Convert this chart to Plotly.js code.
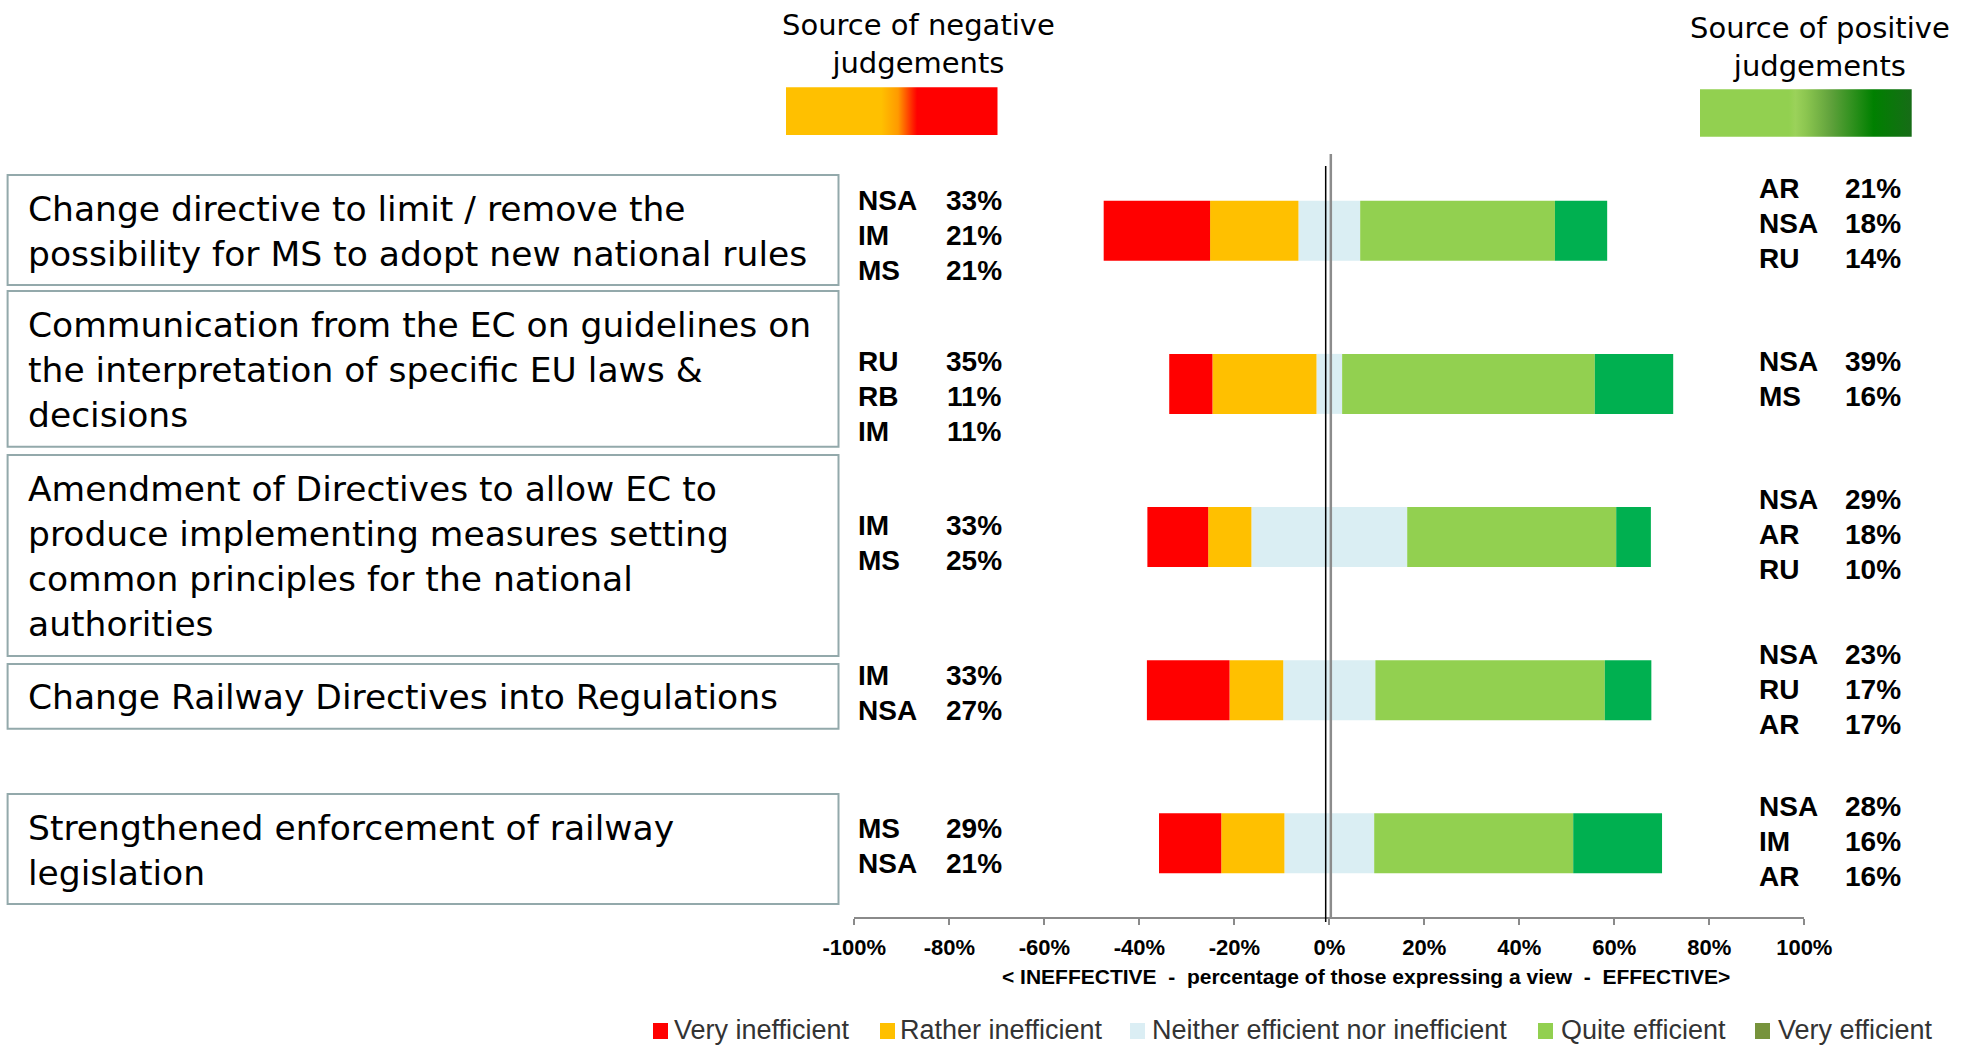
<!DOCTYPE html>
<html><head><meta charset="utf-8">
<script src="https://cdn.plot.ly/plotly-3.0.1.min.js"></script>
<style>html,body{margin:0;padding:0;background:#fff;overflow:hidden}</style>
</head><body><div id="chart" style="width:1975px;height:1048px"></div>
<script>
// ---------------- DATA ----------------
const categories = [
  "Change directive to limit / remove the<br>possibility for MS to adopt new national rules",
  "Communication from the EC on guidelines on<br>the interpretation of specific EU laws &amp;<br>decisions",
  "Amendment of Directives to allow EC to<br>produce implementing measures setting<br>common principles for the national<br>authorities",
  "Change Railway Directives into Regulations",
  "Strengthened enforcement of railway<br>legislation"
];
const veryInefficient   = [22.4,  9.1, 12.8, 17.4, 13.1];
const ratherInefficient = [18.6, 21.9,  9.1, 11.3, 13.3];
const neitherNor        = [13.0,  5.4, 32.8, 19.4, 18.9];
const quiteEfficient    = [41.0, 53.2, 44.0, 48.3, 41.9];
const veryEfficient     = [11.0, 16.5,  7.3,  9.8, 18.7];

const negSourceCodes  = [["NSA","IM","MS"],["RU","RB","IM"],["IM","MS"],["IM","NSA"],["MS","NSA"]];
const negSourceShares = [[33,21,21],[35,11,11],[33,25],[33,27],[29,21]];
const posSourceCodes  = [["AR","NSA","RU"],["NSA","MS"],["NSA","AR","RU"],["NSA","RU","AR"],["NSA","IM","AR"]];
const posSourceShares = [[21,18,14],[39,16],[29,18,10],[23,17,17],[28,16,16]];

const tickVals   = [-100,-80,-60,-40,-20,0,20,40,60,80,100];
const tickLabels = ["-100%","-80%","-60%","-40%","-20%","0%","20%","40%","60%","80%","100%"];
const axisTitle  = "&lt; INEFFECTIVE \u00a0-\u00a0 percentage of those expressing a view \u00a0-\u00a0 EFFECTIVE&gt;";

const legendLabels = ["Very inefficient","Rather inefficient","Neither efficient nor inefficient","Quite efficient","Very efficient"];
const negHeader = "Source of negative<br>judgements";
const posHeader = "Source of positive<br>judgements";

// ---------------- STYLE / LAYOUT ----------------
const W = 1975, H = 1048;
const C_VI = "#FF0000", C_RI = "#FFC000", C_N = "#DAEEF3", C_QE = "#92D050", C_VE = "#00B050";
const legendColors = ["#FF0000","#FFC000","#DBEEF4","#92D050","#77933C"];
const BOX_FONT = '"DejaVu Sans", sans-serif';
const ARIAL = '"Liberation Sans", Arial, sans-serif';

const X_L = 854.3, X_R = 1804.3;
const Y_TOP = 154, Y_BOT = 916.7;
const yRange = [4.479, -0.501];
const unitPx = (Y_BOT - Y_TOP) / (yRange[0] - yRange[1]);
const px = v => v / W;
const py = v => 1 - v / H;
const barCenterPx = i => Y_TOP + (i - yRange[1]) * unitPx;

const barW = 60 / unitPx;
function barTrace(vals, color, name) {
  return {type: "bar", orientation: "h", y: categories, x: vals, name: name,
    width: barW, marker: {color: color, line: {width: 0}},
    xaxis: "x", yaxis: "y", showlegend: false, hoverinfo: "skip"};
}
const traces = [
  barTrace(neitherNor.map(v => -v / 2), C_N, legendLabels[2]),
  barTrace(ratherInefficient.map(v => -v), C_RI, legendLabels[1]),
  barTrace(veryInefficient.map(v => -v), C_VI, legendLabels[0]),
  barTrace(neitherNor.map(v => v / 2), C_N, legendLabels[2]),
  barTrace(quiteEfficient, C_QE, legendLabels[3]),
  barTrace(veryEfficient, C_VE, legendLabels[4])
];

// gradient boxes (decoration, pixel-space overlay axes)
function gradBox(x0, x1, y0, y1, scale) {
  return {type: "scatter", mode: "lines", x: [x0, x1, x1, x0, x0], y: [y0, y0, y1, y1, y0],
    fill: "toself", line: {width: 0, color: "rgba(0,0,0,0)"},
    fillgradient: {type: "horizontal", colorscale: scale, start: x0, stop: x1},
    xaxis: "x2", yaxis: "y2", showlegend: false, hoverinfo: "skip"};
}
traces.push(gradBox(786, 997.5, 87.3, 135,
  [[0, "#FFC000"], [0.45, "#FFC000"], [0.53, "#FF9A00"], [0.6, "#FF2000"], [0.62, "#FF0000"], [1, "#FF0000"]]));
traces.push(gradBox(1700, 1911.7, 89.3, 136.7,
  [[0, "#92D050"], [0.42, "#92D050"], [0.45, "#9BD25A"], [0.5, "#8CC650"], [0.62, "#5FA13B"], [0.82, "#008000"], [1, "#176C17"]]));

const shapes = [];
const annotations = [];

// left text boxes
const boxTop = [175, 291, 455, 664, 794];
const boxBot = [285, 446.7, 656, 728.7, 904];
categories.forEach((c, i) => {
  shapes.push({type: "rect", xref: "paper", yref: "paper",
    x0: px(7.6), x1: px(838.5), y0: py(boxTop[i]), y1: py(boxBot[i]),
    line: {color: "#93A9AB", width: 2}, fillcolor: "rgba(0,0,0,0)"});
  annotations.push({xref: "paper", yref: "paper", x: px(26), y: py((boxTop[i] + boxBot[i]) / 2 + 1),
    xanchor: "left", yanchor: "middle", align: "left", showarrow: false, text: c,
    font: {family: BOX_FONT, size: 34.5, color: "#000"}});
});

// source labels
const SPACING = 35;
const negOffset = [4.3, 12.4, 6.2, 2.8, 2.8];
const posOffset = [-7.4, -4.6, -2.7, -1, -1.6];
function sourceLabels(codes, shares, offs, codeX, pctX) {
  codes.forEach((grp, i) => {
    const n = grp.length;
    grp.forEach((code, k) => {
      const yc = barCenterPx(i) + offs[i] + (k - (n - 1) / 2) * SPACING;
      annotations.push({xref: "paper", yref: "paper", x: px(codeX), y: py(yc), xanchor: "left", yanchor: "middle",
        showarrow: false, text: code, font: {family: ARIAL, size: 28, color: "#000", weight: "bold"}});
      annotations.push({xref: "paper", yref: "paper", x: px(pctX), y: py(yc), xanchor: "right", yanchor: "middle",
        showarrow: false, text: shares[i][k] + "%", font: {family: ARIAL, size: 28, color: "#000", weight: "bold"}});
    });
  });
}
sourceLabels(negSourceCodes, negSourceShares, negOffset, 856, 1004);
sourceLabels(posSourceCodes, posSourceShares, posOffset, 1757, 1903);

// zero divider lines
shapes.push({type: "line", xref: "x", yref: "paper", x0: 0.32, x1: 0.32, y0: py(154), y1: py(917),
  line: {color: "#8C8C8C", width: 2.5}});
shapes.push({type: "line", xref: "x", yref: "paper", x0: -0.76, x1: -0.76, y0: py(166), y1: py(922),
  line: {color: "#000", width: 1.5}});

// axis title
annotations.push({xref: "paper", yref: "paper", x: px(1366), y: py(976), xanchor: "center", yanchor: "middle",
  showarrow: false, text: axisTitle, font: {family: ARIAL, size: 21, color: "#000", weight: "bold"}});

// headers
annotations.push({xref: "paper", yref: "paper", x: px(918), y: py(44), xanchor: "center", yanchor: "middle",
  showarrow: false, text: negHeader, align: "center", font: {family: BOX_FONT, size: 29, color: "#000"}});
annotations.push({xref: "paper", yref: "paper", x: px(1820), y: py(47), xanchor: "center", yanchor: "middle",
  showarrow: false, text: posHeader, align: "center", font: {family: BOX_FONT, size: 29, color: "#000"}});

// manual legend
const legSqX = [653, 880, 1130, 1538, 1755];
const legTxtX = [672, 898, 1150, 1559, 1776];
legendLabels.forEach((l, i) => {
  shapes.push({type: "rect", xref: "paper", yref: "paper", x0: px(legSqX[i]), x1: px(legSqX[i] + 15),
    y0: py(1023), y1: py(1039), line: {width: 0}, fillcolor: legendColors[i]});
  annotations.push({xref: "paper", yref: "paper", x: px(legTxtX[i]), y: py(1030), xanchor: "left", yanchor: "middle",
    showarrow: false, text: l, font: {family: ARIAL, size: 27, color: "#333"}});
});

const layout = {
  width: W, height: H, margin: {l: 0, r: 0, t: 0, b: 0, pad: 0},
  paper_bgcolor: "#fff", plot_bgcolor: "rgba(0,0,0,0)",
  barmode: "relative", showlegend: false,
  xaxis: {domain: [px(X_L), px(X_R)], range: [-100, 100], tickvals: tickVals, ticktext: tickLabels,
    showgrid: false, zeroline: false, showline: true, linecolor: "#8A8A8A", linewidth: 2.5,
    ticks: "outside", ticklen: 6, tickwidth: 2, tickcolor: "#8A8A8A", ticklabelstandoff: 3,
    tickfont: {family: ARIAL, size: 22, color: "#000", weight: "bold"}, anchor: "y", fixedrange: true},
  yaxis: {domain: [py(Y_BOT), py(Y_TOP)], type: "category", range: yRange, showticklabels: false,
    showgrid: false, zeroline: false, showline: false, ticks: "", anchor: "x", fixedrange: true},
  xaxis2: {domain: [0, 1], range: [0, W], visible: false, anchor: "y2", fixedrange: true},
  yaxis2: {domain: [0, 1], range: [H, 0], visible: false, anchor: "x2", fixedrange: true},
  shapes: shapes, annotations: annotations
};
Plotly.newPlot("chart", traces, layout, {displayModeBar: false, staticPlot: true});
</script></body></html>
